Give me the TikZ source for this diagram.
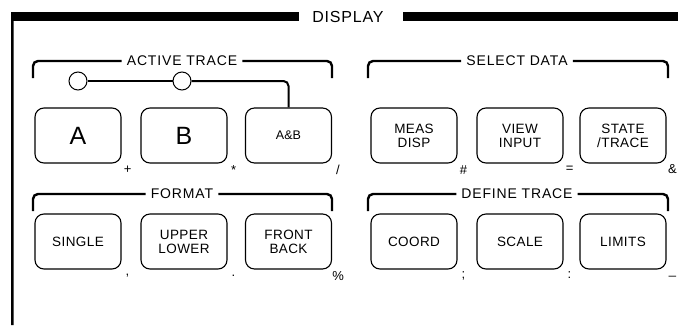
\documentclass[tikz,border=0pt]{standalone}
\usepackage{fontspec}
\setmainfont{Liberation Sans}
\usetikzlibrary{positioning}
\newcommand\keybig{\fontsize{25}{25}\selectfont}
\newcommand\keymid{\fontsize{13.5}{14}\selectfont\addfontfeatures{LetterSpace=3}}
\newcommand\keysmall{\fontsize{12.5}{12.5}\selectfont}
\tikzset{
  key/.style={draw,line width=1.1pt,rounded corners=9pt,minimum width=86pt,minimum height=55pt,align=center,inner sep=0pt},
  keysym/.style={inner sep=0pt,font=\fontsize{13}{13}\selectfont},
  group/.style={inner sep=0pt,font=\fontsize{14}{14}\selectfont\addfontfeatures{LetterSpace=6}},
  bracket/.style={line width=2.4pt,rounded corners=5pt},
  led/.style={circle,draw,line width=1pt,minimum size=18pt,inner sep=0pt,fill=white},
  wire/.style={line width=2pt,rounded corners=5pt}
}

\begin{document}
\begin{tikzpicture}[x=1pt,y=-1pt]
\def\rowA{135.5}
\def\rowB{241.5}
\useasboundingbox (0,0) rectangle (678,325);
% panel frame
\node[font=\fontsize{16}{16}\selectfont\addfontfeatures{LetterSpace=5}] (title) at (348,17) {DISPLAY};
\fill (11,12) rectangle (299,21);
\fill (403,12) rectangle (678,21);
\draw[line width=2.6pt,rounded corners=3pt] (12.3,325) -- (12.3,16.5) -- (20,16.5);
% group headings
\node[group] (gActive) at (182,61) {ACTIVE TRACE};
\node[group] (gSelect) at (517,61) {SELECT DATA};
\node[group] (gFormat) at (182,194) {FORMAT};
\node[group] (gDefine) at (517,194) {DEFINE TRACE};
\foreach \g/\l/\r/\b in {gActive/33/332/78, gSelect/368/668/78, gFormat/33/332/211, gDefine/368/668/211}{
  \draw[bracket] ([xshift=-5pt]\g.west) -| (\l,\b);
  \draw[bracket] ([xshift=5pt]\g.east) -| (\r,\b);
}
% keys
\foreach \k/\x/\y/\txt/\fnt/\sym in {
  kA/78/\rowA/A/\keybig/+, kB/184/\rowA/B/\keybig/*, kAB/288.5/\rowA/A\&B/\keysmall/{/},
  kMeas/414/\rowA/MEAS\\DISP/\keymid/\#, kView/520/\rowA/VIEW\\INPUT/\keymid/=, kState/623/\rowA/{STATE\\/TRACE}/\keymid/\&,
  kSingle/78/\rowB/SINGLE/\keymid/{,}, kUpper/184/\rowB/UPPER\\LOWER/\keymid/., kFront/288.5/\rowB/FRONT\\BACK/\keymid/\%,
  kCoord/414/\rowB/COORD/\keymid/;, kScale/520/\rowB/SCALE/\keymid/:, kLimits/623/\rowB/LIMITS/\keymid/\_}{
  \node[key,font=\fnt] (\k) at (\x,\y) {\txt};
  \node[keysym] (\k-sym) at ([shift={(6,6)}]\k.south east) {\sym};
}
% trace indicators
\node[led] (ledA) at (78,81) {};
\node[led] (ledB) at (182,81) {};
\draw[wire] (ledA) -- (ledB);
\draw[wire] (ledB) -| (kAB.north);
\end{tikzpicture}
\end{document}
